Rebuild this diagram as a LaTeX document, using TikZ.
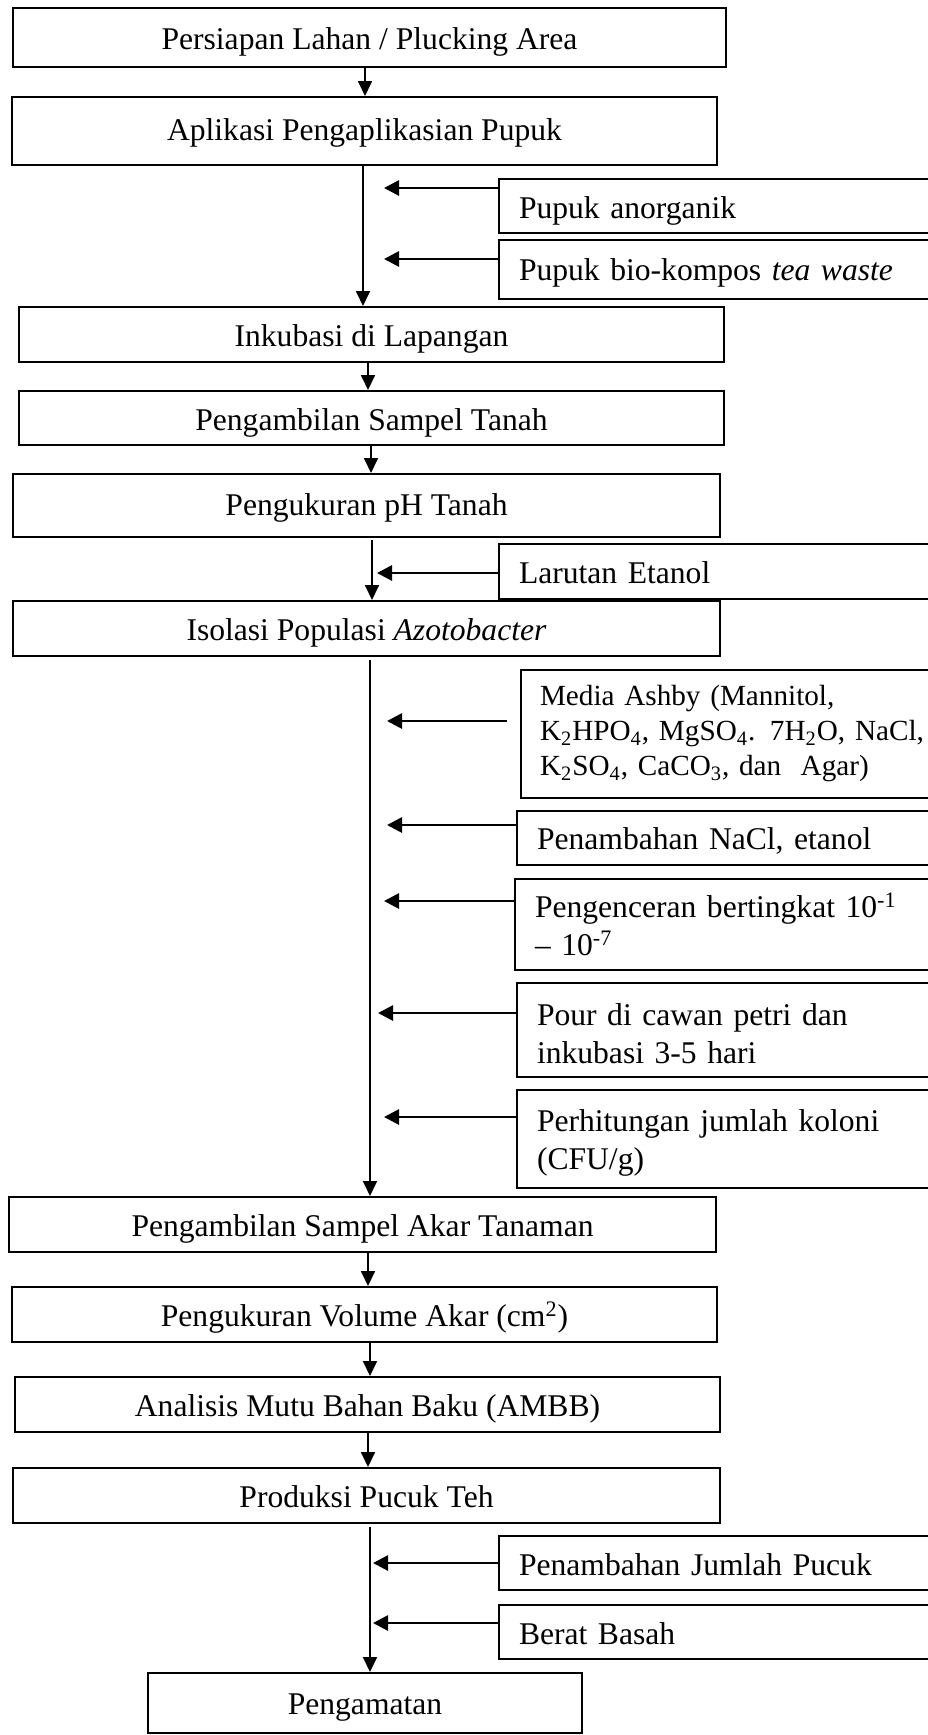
\documentclass[tikz,border=0pt]{standalone}
\usepackage{fontspec}
\setmainfont{Liberation Serif}
\usetikzlibrary{arrows.meta,calc}
\tikzset{
  mainbox/.style={draw, line width=1pt, inner sep=0pt, text height=13pt, text depth=1pt, font=\fontsize{15.8}{18.5}\selectfont},
  sidebox/.style={draw, line width=1pt, anchor=north west, inner xsep=10pt, inner ysep=0pt, align=left, font=\fontsize{15.8}{19}\selectfont},
  oneline/.style={text height=13pt, text depth=1pt},
  vline/.style={line width=0.9pt, -{Triangle[length=7.5pt,width=7pt]}},
  harrow/.style={line width=1.4pt, -{Triangle[length=7.5pt,width=7.5pt]}}
}
\begin{document}
\begin{tikzpicture}[x=0.5pt,y=-0.5pt]
\useasboundingbox (0,0) rectangle (927,1735);
% main boxes
\node[mainbox, minimum width=356.5pt, minimum height=29.5pt] (b1) at (369.5,37.5) {Persiapan Lahan / Plucking Area};
\node[mainbox, minimum width=352.5pt, minimum height=34pt, text height=10pt, text depth=1pt] (b2) at (364.5,131) {Aplikasi Pengaplikasian Pupuk};
\node[mainbox, minimum width=352.5pt, minimum height=27.5pt] (b3) at (371.5,334.5) {Inkubasi di Lapangan};
\node[mainbox, minimum width=352.5pt, minimum height=27pt] (b4) at (371.5,418) {Pengambilan Sampel Tanah};
\node[mainbox, minimum width=353.5pt, minimum height=31.5pt, text height=10.5pt, text depth=1pt] (b5) at (366.5,505.5) {Pengukuran pH Tanah};
\node[mainbox, minimum width=353.5pt, minimum height=27.5pt] (b6) at (366.5,628.5) {Isolasi Populasi \textit{Azotobacter}};
\node[mainbox, minimum width=353.5pt, minimum height=27.5pt] (b7) at (362.5,1224.5) {Pengambilan Sampel Akar Tanaman};
\node[mainbox, minimum width=352.5pt, minimum height=27.5pt] (b8) at (364.5,1314.5) {Pengukuran Volume Akar (cm\textsuperscript{2})};
\node[mainbox, minimum width=352.5pt, minimum height=27.5pt] (b9) at (367.5,1404.5) {Analisis Mutu Bahan Baku (AMBB)};
\node[mainbox, minimum width=353.5pt, minimum height=27.5pt] (b10) at (366.5,1495.5) {Produksi Pucuk Teh};
\node[mainbox, minimum width=217pt, minimum height=30pt, text height=12pt] (b11) at (365,1703) {Pengamatan};
% side boxes (right edges lie beyond the page)
\node[sidebox, oneline, text width=211pt, minimum height=27pt] (s1) at (498,178) {Pupuk anorganik};
\node[sidebox, oneline, text height=11.5pt, text width=211pt, minimum height=29.5pt] (s2) at (498,239) {Pupuk bio-kompos \textit{tea waste}};
\node[sidebox, oneline, text width=211pt, minimum height=27.5pt] (s3) at (498,543) {Larutan Etanol};
\node[sidebox, text width=200pt, minimum height=64pt, inner xsep=9.5pt, font=\fontsize{14.6}{17.5}\selectfont] (s4) at (520,669) {Media Ashby (Mannitol,\\K\textsubscript{2}HPO\textsubscript{4}, MgSO\textsubscript{4}. 7H\textsubscript{2}O, NaCl,\\K\textsubscript{2}SO\textsubscript{4}, CaCO\textsubscript{3}, dan\ \ Agar)};
\node[sidebox, oneline, text height=12.5pt, text width=202pt, minimum height=27pt] (s5) at (516,810) {Penambahan NaCl, etanol};
\node[sidebox, text width=203pt, minimum height=45.5pt] (s6) at (514,878) {Pengenceran bertingkat 10\textsuperscript{-1}\\– 10\textsuperscript{-7}};
\node[sidebox, text width=202pt, minimum height=47pt, text depth=15pt] (s7) at (516,982) {Pour di cawan petri dan\\inkubasi 3-5 hari};
\node[sidebox, text width=202pt, minimum height=49pt, text depth=18.5pt] (s8) at (516,1089) {Perhitungan jumlah koloni\\(CFU/g)};
\node[sidebox, oneline, text width=211pt, minimum height=27pt] (s9) at (498,1535) {Penambahan Jumlah Pucuk};
\node[sidebox, oneline, text width=211pt, minimum height=27pt] (s10) at (498,1604) {Berat Basah};
% coordinates for vertical connectors
\coordinate (x1) at (365,0);
\coordinate (x2) at (363,0);
\coordinate (x3) at (368,0);
\coordinate (x4) at (371,0);
\coordinate (x5) at (372,0);
\coordinate (x6) at (370,0);
\coordinate (x7) at (368,0);
\coordinate (x8) at (370,0);
\coordinate (x9) at (368,0);
\coordinate (x10) at (370,0);
\coordinate (p5) at (372,540);
\coordinate (p6) at (370,660);
\coordinate (p10) at (370,1527);
\draw[vline] (b1.south -| x1) -- (b2.north -| x1);
\draw[vline] (b2.south -| x2) -- (b3.north -| x2);
\draw[vline] (b3.south -| x3) -- (b4.north -| x3);
\draw[vline] (b4.south -| x4) -- (b5.north -| x4);
\draw[vline] (p5) -- (b6.north -| x5);
\draw[vline] (p6) -- (b7.north -| x6);
\draw[vline] (b7.south -| x7) -- (b8.north -| x7);
\draw[vline] (b8.south -| x8) -- (b9.north -| x8);
\draw[vline] (b9.south -| x9) -- (b10.north -| x9);
\draw[vline] (p10) -- (b11.north -| x10);
% side arrow targets
\coordinate (t1) at (384,188);
\coordinate (t2) at (384,259);
\coordinate (t3) at (377,573);
\coordinate (t4) at (387,721);
\coordinate (t5) at (387,825);
\coordinate (t6) at (384,901);
\coordinate (t7) at (378,1013);
\coordinate (t8) at (384,1117);
\coordinate (t9) at (373,1563);
\coordinate (t10) at (373,1623);
\coordinate (o4) at (507,721);
\draw[harrow] (s1.west |- t1) -- (t1);
\draw[harrow] (s2.west |- t2) -- (t2);
\draw[harrow] (s3.west |- t3) -- (t3);
\draw[harrow] (o4) -- (t4);
\draw[harrow] (s5.west |- t5) -- (t5);
\draw[harrow] (s6.west |- t6) -- (t6);
\draw[harrow] (s7.west |- t7) -- (t7);
\draw[harrow] (s8.west |- t8) -- (t8);
\draw[harrow] (s9.west |- t9) -- (t9);
\draw[harrow] (s10.west |- t10) -- (t10);
\end{tikzpicture}
\end{document}
